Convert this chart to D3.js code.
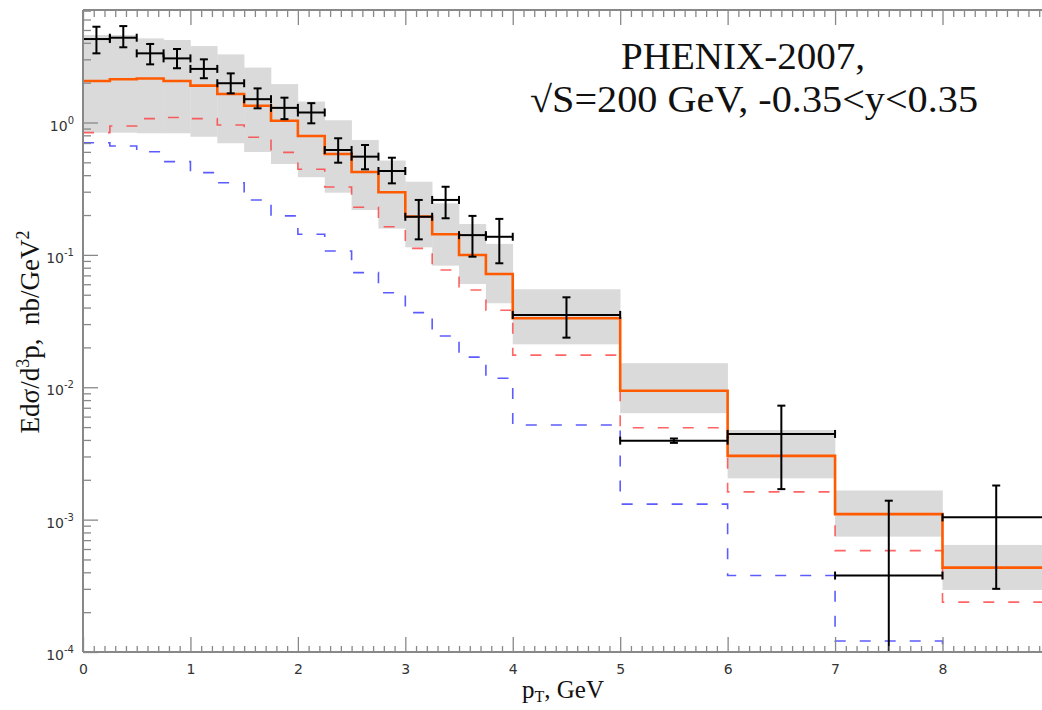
<!DOCTYPE html>
<html><head><meta charset="utf-8">
<script src="https://cdn.jsdelivr.net/npm/d3@7"></script>
<style>html,body{margin:0;padding:0;background:#fff;}svg{display:block;}</style>
</head><body>
<script>
// ---- data ----
const binLo = [0,0.25,0.5,0.75,1,1.25,1.5,1.75,2,2.25,2.5,2.75,3,3.25,3.5,3.75,4,5,6,7,8];
const binHi = [0.25,0.5,0.75,1,1.25,1.5,1.75,2,2.25,2.5,2.75,3,3.25,3.5,3.75,4,5,6,7,8,9];
const theoryCentral = [2.06,2.12,2.15,2.06,1.90,1.64,1.34,1.03,0.791,0.578,0.423,0.297,0.195,0.143,0.0998,0.0717,0.0332,0.00942,0.00303,0.00110,0.000434];
const bandHigh = [4.58,4.58,4.32,4.20,3.78,3.27,2.60,1.95,1.44,1.04,0.738,0.516,0.357,0.245,0.171,0.121,0.055,0.0152,0.00475,0.00166,0.000644];
const bandLow = [0.838,0.838,0.829,0.829,0.78,0.697,0.599,0.486,0.386,0.295,0.218,0.158,0.114,0.0829,0.0603,0.0431,0.0211,0.00637,0.00205,0.000744,0.000294];
const redDashed = [0.838,0.94,1.07,1.09,1.07,0.957,0.773,0.595,0.443,0.326,0.229,0.163,0.112,0.0769,0.0543,0.0382,0.0175,0.00495,0.00162,0.000583,0.000238];
const blueDashed = [0.703,0.665,0.602,0.506,0.418,0.351,0.26,0.197,0.143,0.107,0.0734,0.0518,0.0366,0.0244,0.0169,0.0117,0.00519,0.00131,0.000378,0.000121,0.00008];

const ptData = [0.125,0.375,0.625,0.875,1.125,1.375,1.625,1.875,2.125,2.375,2.625,2.875,3.125,3.375,3.625,3.875,4.5,5.5,6.5,7.5,8.5];
const ptErr = [0.125,0.125,0.125,0.125,0.125,0.125,0.125,0.125,0.125,0.125,0.125,0.125,0.125,0.125,0.125,0.125,0.5,0.5,0.5,0.5,0.5];
const yData = [4.27,4.37,3.33,3.05,2.54,1.98,1.50,1.29,1.19,0.62,0.552,0.430,0.194,0.26,0.141,0.137,0.0352,0.00395,0.00444,0.000378,0.00104];
const yErrHigh = [5.29,5.35,3.92,3.59,3.0,2.35,1.81,1.54,1.40,0.76,0.676,0.542,0.26,0.327,0.197,0.187,0.0478,0.0041,0.00726,0.00139,0.00181];
const yErrLow = [3.33,3.70,2.75,2.57,2.16,1.66,1.28,1.06,0.986,0.497,0.443,0.347,0.131,0.189,0.0969,0.0864,0.0237,0.0038,0.0017,0.0001,0.0003];

const xTickLabels = [0,1,2,3,4,5,6,7,8];
const yTickExponents = [0,-1,-2,-3,-4];

// ---- layout ----
const W = 1042, H = 710;
const plotTop = 10, plotBottom = 652, plotLeft = 83, plotRight = 1042;
const x = d3.scaleLinear().domain([0, 8]).range([83, 942.5]);
const y = d3.scaleLog().domain([1e-4, 1]).range([652, 122.5]);

const svg = d3.select("body").append("svg").attr("width", W).attr("height", H);
svg.append("defs").append("clipPath").attr("id", "clip")
  .append("rect").attr("x", plotLeft).attr("y", plotTop)
  .attr("width", plotRight - plotLeft).attr("height", plotBottom - plotTop);

const g = svg.append("g").attr("clip-path", "url(#clip)");

// uncertainty band
g.selectAll("rect.band").data(binLo).enter().append("rect")
  .attr("class", "band")
  .attr("x", (d, i) => x(binLo[i]))
  .attr("width", (d, i) => x(binHi[i]) - x(binLo[i]) + 0.3)
  .attr("y", (d, i) => y(bandHigh[i]))
  .attr("height", (d, i) => y(bandLow[i]) - y(bandHigh[i]))
  .attr("fill", "#dadada");

function stepPts(vals) {
  const pts = vals.map((v, i) => [binLo[i], v]);
  pts.push([binHi[binHi.length - 1], vals[vals.length - 1]]);
  return pts;
}
const stepLine = d3.line().x(d => x(d[0])).y(d => y(d[1])).curve(d3.curveStepAfter);

g.append("path").attr("d", stepLine(stepPts(redDashed)))
  .attr("fill", "none").attr("stroke", "rgba(255,50,50,0.75)").attr("stroke-width", 1.6)
  .attr("stroke-dasharray", "11,14");
g.append("path").attr("d", stepLine(stepPts(blueDashed)))
  .attr("fill", "none").attr("stroke", "rgba(50,50,255,0.8)").attr("stroke-width", 1.6)
  .attr("stroke-dasharray", "11,14");
g.append("path").attr("d", stepLine(stepPts(theoryCentral)))
  .attr("fill", "none").attr("stroke", "#ff5a00").attr("stroke-width", 2.6);

// data points with error bars
const cap = 4;
const pg = g.append("g").attr("stroke", "#000").attr("stroke-width", 2).attr("fill", "none");
ptData.forEach((p, i) => {
  const xl = x(p - ptErr[i]), xr = x(p + ptErr[i]), xc = x(p);
  const yc = y(yData[i]), yh = y(yErrHigh[i]), yl = y(yErrLow[i]);
  pg.append("line").attr("x1", xl).attr("x2", xr).attr("y1", yc).attr("y2", yc);
  pg.append("line").attr("x1", xl).attr("x2", xl).attr("y1", yc - cap).attr("y2", yc + cap);
  pg.append("line").attr("x1", xr).attr("x2", xr).attr("y1", yc - cap).attr("y2", yc + cap);
  pg.append("line").attr("x1", xc).attr("x2", xc).attr("y1", yh).attr("y2", yl);
  pg.append("line").attr("x1", xc - cap).attr("x2", xc + cap).attr("y1", yh).attr("y2", yh);
  pg.append("line").attr("x1", xc - cap).attr("x2", xc + cap).attr("y1", yl).attr("y2", yl);
});

// ---- axes ----
const axisColor = "#888";
const xMinor = d3.range(0, 9.001, 0.1).map(v => Math.round(v * 10) / 10).filter(v => Math.abs(v - Math.round(v)) > 1e-6);
const yTop = y.invert(plotTop);
const yMinor = [];
[-4, -3, -2, -1, 0].forEach(e => { for (let m = 2; m <= 9; m++) { const v = m * Math.pow(10, e); if (v <= yTop) yMinor.push(v); } });
const yMajor = yTickExponents.map(e => Math.pow(10, e));

function styleAxis(sel) {
  sel.select(".domain").remove();
  sel.selectAll(".tick line").attr("stroke", axisColor).attr("stroke-width", 1.3);
}

svg.append("g").attr("transform", `translate(0,${plotBottom})`)
  .call(d3.axisBottom(x).tickValues(xMinor).tickSize(-6).tickFormat(""))
  .call(styleAxis);
const xb = svg.append("g").attr("transform", `translate(0,${plotBottom})`)
  .call(d3.axisBottom(x).tickValues(xTickLabels).tickSize(-15).tickPadding(12).tickFormat(d3.format("d")))
  .call(styleAxis);
xb.selectAll("text").attr("font-family", "DejaVu Sans").attr("font-size", 14).attr("fill", "#333");

svg.append("g").attr("transform", `translate(0,${plotTop})`)
  .call(d3.axisTop(x).tickValues(xMinor).tickSize(-7).tickFormat(""))
  .call(styleAxis);
svg.append("g").attr("transform", `translate(0,${plotTop})`)
  .call(d3.axisTop(x).tickValues(xTickLabels).tickSize(-15).tickFormat(""))
  .call(styleAxis);

svg.append("g").attr("transform", `translate(${plotLeft},0)`)
  .call(d3.axisLeft(y).tickValues(yMinor).tickSize(-8).tickFormat(""))
  .call(styleAxis);
svg.append("g").attr("transform", `translate(${plotLeft},0)`)
  .call(d3.axisLeft(y).tickValues(yMajor).tickSize(-15).tickFormat(""))
  .call(styleAxis);

// y tick labels with superscripts
yTickExponents.forEach(e => {
  const t = svg.append("text").attr("x", 74).attr("y", y(Math.pow(10, e)) + 8)
    .attr("text-anchor", "end").attr("font-family", "DejaVu Sans").attr("font-size", 14).attr("fill", "#333");
  t.append("tspan").text("10");
  t.append("tspan").attr("dy", -7).attr("font-size", 10).text(String(e));
});

// axis lines
svg.append("line").attr("x1", plotLeft).attr("x2", plotLeft).attr("y1", plotTop).attr("y2", plotBottom)
  .attr("stroke", axisColor).attr("stroke-width", 2);
svg.append("line").attr("x1", plotLeft).attr("x2", plotRight).attr("y1", plotBottom).attr("y2", plotBottom)
  .attr("stroke", axisColor).attr("stroke-width", 2);
svg.append("line").attr("x1", plotLeft).attr("x2", plotRight).attr("y1", plotTop).attr("y2", plotTop)
  .attr("stroke", axisColor).attr("stroke-width", 2);

// axis titles
const serif = "'Liberation Serif', 'Times New Roman', serif";
const xt = svg.append("text").attr("x", 522).attr("y", 698)
  .attr("font-family", serif).attr("font-size", 25).attr("fill", "#111");
xt.append("tspan").text("p");
xt.append("tspan").attr("dy", 4).attr("font-size", 16).text("T");
xt.append("tspan").attr("dy", -4).text(", GeV");

const yt = svg.append("text").attr("transform", "translate(39,332) rotate(-90)")
  .attr("text-anchor", "middle").attr("font-family", serif).attr("font-size", 27)
  .attr("fill", "#111").style("white-space", "pre");
yt.append("tspan").text("Edσ/d");
yt.append("tspan").attr("dy", -10).attr("font-size", 18).text("3");
yt.append("tspan").attr("dy", 10).text("p,  nb/GeV");
yt.append("tspan").attr("dy", -10).attr("font-size", 18).text("2");

// title
svg.append("text").attr("x", 621).attr("y", 69).attr("font-family", serif).attr("font-size", 37)
  .attr("fill", "#111").attr("textLength", 244).attr("lengthAdjust", "spacingAndGlyphs").text("PHENIX-2007,");
svg.append("text").attr("x", 530).attr("y", 112).attr("font-family", serif).attr("font-size", 37)
  .attr("fill", "#111").attr("textLength", 448).attr("lengthAdjust", "spacingAndGlyphs").text("√S=200 GeV, -0.35<y<0.35");
</script>
</body></html>
